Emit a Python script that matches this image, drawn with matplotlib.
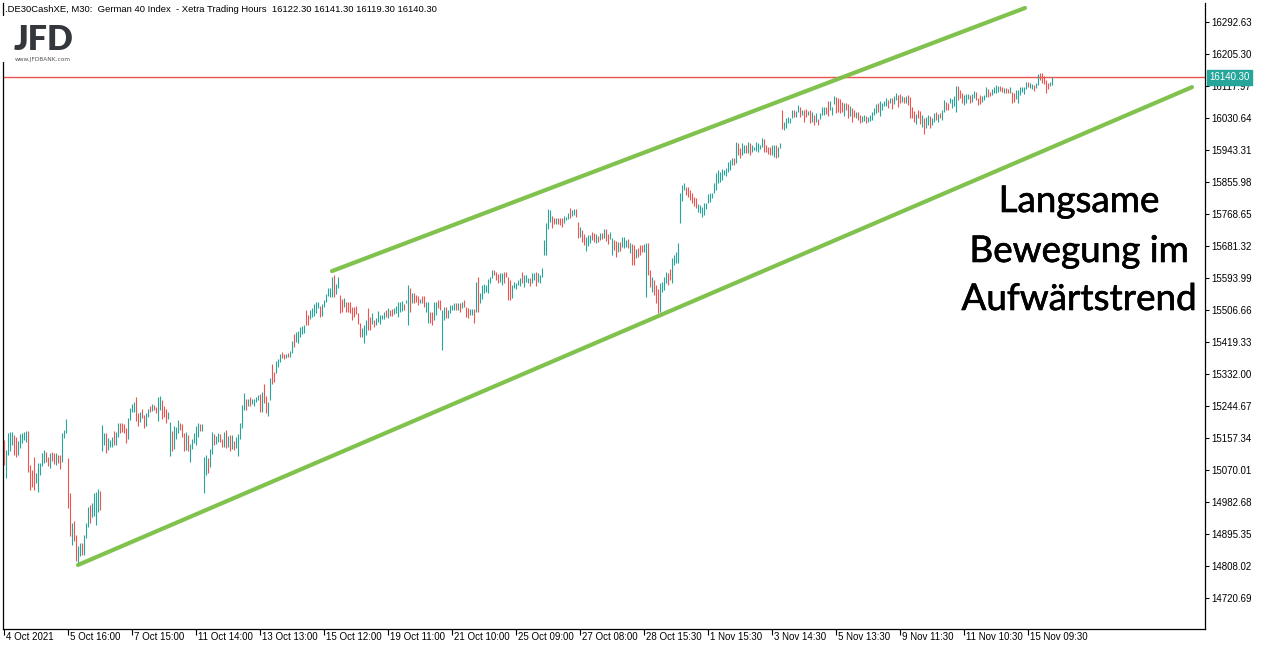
import matplotlib
matplotlib.use("Agg")
import matplotlib.pyplot as plt
import matplotlib.patheffects as pe
from matplotlib.transforms import ScaledTranslation, blended_transform_factory
import numpy as np

# ---------------- data ----------------
highs = [
    15151, 15124, 15170, 15173, 15173, 15165, 15159, 15149, 15168, 15170,
    15173, 15176, 15176, 15083, 15069, 15105, 15061, 15088, 15088, 15116,
    15124, 15118, 15105, 15116, 15118, 15116, 15116, 15110, 15110, 15170,
    15179, 15209, 15102, 15007, 14925, 14930, 14892, 14862, 14870, 14870,
    14892, 14925, 14969, 14974, 14979, 15007, 15009, 15017, 15012, 15192,
    15170, 15170, 15157, 15151, 15159, 15176, 15173, 15198, 15198, 15198,
    15195, 15184, 15211, 15239, 15250, 15255, 15269, 15225, 15228, 15236,
    15220, 15225, 15236, 15244, 15250, 15247, 15241, 15269, 15272, 15260,
    15244, 15236, 15228, 15200, 15176, 15189, 15187, 15206, 15198, 15195,
    15170, 15173, 15165, 15140, 15154, 15170, 15189, 15198, 15195, 15195,
    15105, 15110, 15102, 15127, 15173, 15168, 15162, 15170, 15168, 15154,
    15173, 15179, 15162, 15165, 15165, 15149, 15159, 15168, 15198, 15247,
    15280, 15263, 15263, 15269, 15263, 15263, 15269, 15274, 15277, 15282,
    15304, 15272, 15255, 15320, 15358, 15337, 15367, 15372, 15386, 15391,
    15386, 15386, 15388, 15394, 15421, 15440, 15446, 15449, 15460, 15462,
    15465, 15506, 15492, 15506, 15511, 15522, 15528, 15528, 15517, 15522,
    15533, 15550, 15566, 15566, 15596, 15602, 15577, 15596, 15547, 15536,
    15539, 15528, 15528, 15528, 15514, 15514, 15517, 15498, 15470, 15457,
    15465, 15479, 15511, 15487, 15498, 15479, 15484, 15503, 15492, 15492,
    15500, 15506, 15511, 15506, 15509, 15511, 15517, 15528, 15528, 15531,
    15522, 15533, 15574, 15566, 15552, 15552, 15547, 15544, 15536, 15544,
    15544, 15528, 15528, 15500, 15500, 15528, 15528, 15533, 15533, 15506,
    15514, 15514, 15506, 15520, 15520, 15525, 15525, 15525, 15525, 15528,
    15533, 15514, 15511, 15509, 15509, 15509, 15582, 15596, 15552, 15574,
    15577, 15574, 15591, 15596, 15615, 15615, 15610, 15604, 15607, 15607,
    15610, 15610, 15596, 15588, 15574, 15582, 15580, 15588, 15593, 15610,
    15602, 15602, 15593, 15593, 15607, 15607, 15610, 15607, 15602, 15621,
    15697, 15743, 15782, 15779, 15762, 15757, 15757, 15757, 15757, 15757,
    15762, 15760, 15771, 15784, 15779, 15782, 15782, 15746, 15732, 15724,
    15713, 15705, 15711, 15711, 15719, 15716, 15713, 15708, 15716, 15716,
    15727, 15727, 15713, 15719, 15702, 15697, 15694, 15691, 15691, 15705,
    15705, 15697, 15700, 15689, 15686, 15683, 15672, 15675, 15683, 15683,
    15686, 15689, 15689, 15615, 15596, 15588, 15574, 15563, 15580, 15582,
    15596, 15610, 15607, 15618, 15648, 15656, 15664, 15689, 15825, 15847,
    15853, 15842, 15842, 15834, 15825, 15814, 15812, 15795, 15792, 15787,
    15798, 15798, 15823, 15825, 15825, 15853, 15880, 15888, 15883, 15891,
    15888, 15893, 15910, 15915, 15921, 15921, 15964, 15962, 15948, 15962,
    15956, 15956, 15964, 15962, 15956, 15951, 15964, 15962, 15956, 15975,
    15972, 15956, 15951, 15951, 15956, 15956, 15956, 15951, 15962, 16052,
    16019, 16030, 16033, 16030, 16052, 16052, 16049, 16065, 16060, 16052,
    16052, 16054, 16049, 16052, 16046, 16038, 16044, 16027, 16044, 16060,
    16060, 16060, 16076, 16076, 16060, 16090, 16087, 16085, 16082, 16074,
    16071, 16071, 16068, 16063, 16057, 16052, 16046, 16046, 16038, 16035,
    16038, 16035, 16033, 16038, 16046, 16057, 16068, 16071, 16076, 16071,
    16076, 16085, 16079, 16085, 16085, 16090, 16098, 16093, 16095, 16090,
    16087, 16090, 16093, 16087, 16060, 16049, 16041, 16052, 16049, 16038,
    16030, 16033, 16038, 16035, 16030, 16044, 16046, 16041, 16044, 16052,
    16079, 16074, 16071, 16085, 16082, 16090, 16117, 16117, 16106, 16098,
    16093, 16095, 16095, 16093, 16095, 16104, 16101, 16085, 16093, 16090,
    16093, 16114, 16109, 16101, 16109, 16114, 16120, 16117, 16117, 16114,
    16112, 16112, 16109, 16114, 16101, 16098, 16106, 16106, 16114, 16114,
    16114, 16128, 16128, 16125, 16123, 16120, 16125, 16150, 16153, 16153,
    16144, 16134, 16125, 16128, 16141.3,
]
lows = [
    15083, 15048, 15110, 15121, 15138, 15110, 15105, 15110, 15129, 15143,
    15151, 15146, 15064, 15015, 15023, 15015, 15034, 15009, 15056, 15080,
    15088, 15091, 15080, 15075, 15094, 15086, 15083, 15088, 15072, 15091,
    15157, 15170, 14966, 14889, 14865, 14876, 14821, 14810, 14835, 14838,
    14838, 14884, 14914, 14925, 14941, 14944, 14919, 14955, 14960, 15121,
    15138, 15116, 15124, 15132, 15132, 15138, 15138, 15159, 15170, 15173,
    15170, 15143, 15154, 15206, 15228, 15228, 15203, 15189, 15200, 15211,
    15184, 15189, 15214, 15228, 15231, 15233, 15225, 15203, 15233, 15209,
    15214, 15198, 15209, 15108, 15121, 15127, 15154, 15170, 15179, 15159,
    15121, 15124, 15121, 15091, 15127, 15143, 15138, 15159, 15176, 15176,
    15007, 15056, 15061, 15077, 15113, 15138, 15140, 15146, 15146, 15132,
    15132, 15129, 15132, 15121, 15127, 15124, 15129, 15108, 15154, 15184,
    15233, 15233, 15244, 15244, 15250, 15244, 15255, 15260, 15228, 15228,
    15252, 15225, 15217, 15260, 15304, 15310, 15334, 15350, 15364, 15375,
    15372, 15375, 15378, 15378, 15388, 15405, 15419, 15416, 15432, 15440,
    15443, 15465, 15465, 15481, 15487, 15489, 15498, 15511, 15487, 15489,
    15514, 15528, 15544, 15541, 15541, 15541, 15550, 15566, 15498, 15500,
    15514, 15500, 15500, 15498, 15479, 15487, 15495, 15468, 15432, 15432,
    15416, 15438, 15451, 15451, 15468, 15460, 15465, 15473, 15468, 15481,
    15481, 15487, 15484, 15489, 15489, 15495, 15498, 15487, 15500, 15503,
    15506, 15525, 15465, 15500, 15525, 15525, 15528, 15520, 15525, 15525,
    15514, 15500, 15470, 15470, 15465, 15479, 15492, 15511, 15506, 15397,
    15479, 15484, 15484, 15498, 15506, 15506, 15506, 15506, 15500, 15511,
    15514, 15487, 15484, 15492, 15492, 15470, 15500, 15500, 15525, 15536,
    15552, 15555, 15552, 15580, 15593, 15602, 15588, 15580, 15582, 15574,
    15580, 15596, 15533, 15533, 15539, 15566, 15563, 15574, 15571, 15580,
    15569, 15582, 15580, 15571, 15580, 15588, 15571, 15582, 15580, 15596,
    15656, 15656, 15727, 15746, 15730, 15741, 15741, 15741, 15738, 15732,
    15743, 15752, 15754, 15757, 15762, 15765, 15760, 15702, 15705, 15692,
    15683, 15667, 15681, 15689, 15697, 15692, 15689, 15692, 15697, 15700,
    15702, 15694, 15686, 15700, 15656, 15670, 15650, 15664, 15667, 15678,
    15675, 15678, 15675, 15661, 15629, 15629, 15648, 15650, 15656, 15664,
    15664, 15541, 15602, 15569, 15555, 15547, 15525, 15498, 15500, 15555,
    15561, 15580, 15574, 15588, 15580, 15629, 15634, 15634, 15743, 15803,
    15834, 15820, 15814, 15806, 15798, 15790, 15784, 15773, 15771, 15760,
    15765, 15782, 15798, 15801, 15812, 15825, 15834, 15853, 15855, 15861,
    15874, 15872, 15883, 15888, 15902, 15902, 15907, 15929, 15921, 15929,
    15934, 15934, 15934, 15929, 15937, 15943, 15940, 15937, 15945, 15951,
    15937, 15937, 15932, 15929, 15929, 15923, 15921, 15923, 15948, 15999,
    15997, 16003, 16016, 16016, 16030, 16033, 16033, 16046, 16033, 16038,
    16019, 16033, 16038, 16016, 16019, 16011, 16019, 16011, 16027, 16038,
    16038, 16041, 16035, 16052, 16038, 16068, 16044, 16046, 16044, 16046,
    16035, 16052, 16030, 16035, 16019, 16033, 16030, 16025, 16016, 16019,
    16022, 16016, 16019, 16022, 16025, 16038, 16044, 16046, 16035, 16052,
    16063, 16063, 16057, 16071, 16054, 16068, 16079, 16060, 16071, 16074,
    16071, 16071, 16065, 16030, 16030, 16019, 16014, 16030, 16014, 16005,
    15986, 16003, 16011, 16003, 16011, 16019, 16025, 16019, 16030, 16025,
    16046, 16052, 16052, 16071, 16057, 16063, 16046, 16079, 16085, 16071,
    16065, 16071, 16082, 16071, 16074, 16085, 16079, 16065, 16068, 16074,
    16079, 16087, 16087, 16090, 16093, 16098, 16098, 16101, 16104, 16101,
    16098, 16098, 16098, 16098, 16071, 16074, 16082, 16071, 16093, 16101,
    16095, 16109, 16114, 16112, 16109, 16104, 16112, 16120, 16134, 16125,
    16123, 16098, 16109, 16117, 16119.3,
]
# 'u' = bullish bar (close > open), 'd' = bearish bar
bar_dir = (
    "duuuudduuu" "uudddduuuu" "uddudduddu" "uuddudduud" "uuuduuuudu"
    "uduuuduudd" "dduuuuddud" "duududduud" "dduuduuudd" "duduuuuudu"
    "uuduuduudd" "udududuuuu" "ududuuuudu" "dduudduuud" "duduuduuuu"
    "udduuuuudu" "uuuuuduudd" "uddddddddu" "uudduduuuu" "ududduuuuu"
    "duududddud" "duudduuddu" "uduuuududu" "ddduududuu" "uuuuuddduu"
    "dddduuuuud" "uuuduuduuu" "uuuudduddd" "uuuduuddud" "duuuddudud"
    "udduuddudu" "uududduddd" "uudduddduu" "uudduuuuuu" "udddddduuu"
    "uuuuuuuuuu" "uuuuududdu" "ududuuuuuu" "dddduuduud" "uuuuuduudu"
    "ddudududuu" "udduuudddd" "uddudduddu" "uduuuuuduu" "uududuuddu"
    "dudddduddu" "duuduududu" "udduuuuddd" "uuuduudddu" "uudduuuudd"
    "uddudduuuu" "uuduuduudd" "ddduu"
)

date_labels = ["4 Oct 2021", "5 Oct 16:00", "7 Oct 15:00", "11 Oct 14:00",
               "13 Oct 13:00", "15 Oct 12:00", "19 Oct 11:00", "21 Oct 10:00",
               "25 Oct 09:00", "27 Oct 08:00", "28 Oct 15:30", "1 Nov 15:30",
               "3 Nov 14:30", "5 Nov 13:30", "9 Nov 11:30", "11 Nov 10:30",
               "15 Nov 09:30"]
bars_per_label = 32

price_ticks = [14720.69, 14808.02, 14895.35, 14982.68, 15070.01, 15157.34,
               15244.67, 15332.00, 15419.33, 15506.66, 15593.99, 15681.32,
               15768.65, 15855.98, 15943.31, 16030.64, 16117.97, 16205.30,
               16292.63]

last_price = 16140.30
title_text = (".DE30CashXE, M30:  German 40 Index  - Xetra Trading Hours  "
              "16122.30 16141.30 16119.30 16140.30")

# trend lines: (bar index, price) at both ends
lower_trend_x = [37, 594]
lower_trend_y = [14810, 16114]
upper_trend_x = [164, 510.5]
upper_trend_y = [15612, 16330]

note_lines = ["Langsame", "Bewegung im", "Aufwärtstrend"]

# ---------------- styling ----------------
TEAL = "#26a69a"
RED = "#ef5350"
GREEN = "#7abf44"
W, H = 1264, 650
AX_L, AX_R, AX_T, AX_B = 2.5, 1205.0, 3.0, 629.0
TICK_FONT = "Liberation Sans"


def fx(px):
    return px / W


def fy(py):
    return 1 - py / H


fig = plt.figure(figsize=(W / 100, H / 100), dpi=100)
fig.patch.set_facecolor("white")
ax = fig.add_axes([fx(AX_L), fy(AX_B), (AX_R - AX_L) / W, (AX_B - AX_T) / H])
ax.set_facecolor("white")

n = min(len(highs), len(lows), len(bar_dir))
hi = np.asarray(highs[:n], dtype=float)
lo = np.asarray(lows[:n], dtype=float)
xs = np.arange(n)
up = np.array([c == "u" for c in bar_dir[:n]])

bar_lw = 0.8
c1 = ax.vlines(xs[up], lo[up], hi[up], color=TEAL, lw=bar_lw, zorder=3)
c2 = ax.vlines(xs[~up], lo[~up], hi[~up], color=RED, lw=bar_lw, zorder=3)
for c in (c1, c2):
    c.set_snap(True)

ax.axhline(last_price, color=RED, lw=1.0, zorder=2)

ax.plot(lower_trend_x, lower_trend_y, color=GREEN, lw=3.0, alpha=0.95,
        solid_capstyle="round", zorder=4)
ax.plot(upper_trend_x, upper_trend_y, color=GREEN, lw=3.0, alpha=0.95,
        solid_capstyle="round", zorder=4)

ax.set_xlim(-0.75, (AX_R - AX_L) / 2 - 0.75)
ax.set_ylim(16351.8 - 2.7291 * AX_B, 16351.8 - 2.7291 * AX_T)

for s in ("left", "right", "bottom"):
    ax.spines[s].set_color("black")
    ax.spines[s].set_linewidth(0.9)
ax.spines["top"].set_visible(False)

# right price axis
ax.yaxis.tick_right()
ax.set_yticks(price_ticks)
ax.set_yticklabels([f"{v:.2f}" for v in price_ticks])
ax.tick_params(axis="y", direction="out", length=3.0, width=0.8, pad=1.2,
               labelsize=7, colors="black")
for lab in ax.get_yticklabels():
    lab.set_family(TICK_FONT)

# bottom date axis
tick_pos = [k * bars_per_label for k in range(len(date_labels))]
ax.set_xticks(tick_pos)
ax.set_xticklabels([])
ax.tick_params(axis="x", direction="out", length=4.5, width=0.8, colors="black")
lab_trans = blended_transform_factory(ax.transData, ax.transAxes) + \
    ScaledTranslation(2 / 100, -3.5 / 100, fig.dpi_scale_trans)
for pos, lab in zip(tick_pos, date_labels):
    ax.text(pos, 0, lab, transform=lab_trans, ha="left", va="top",
            fontsize=7, family=TICK_FONT, color="black", clip_on=False)

# current price tag
tag_trans = blended_transform_factory(ax.transAxes, ax.transData) + \
    ScaledTranslation(4.5 / 100, 0, fig.dpi_scale_trans)
ax.text(1.0, last_price, f"{last_price:.2f}", transform=tag_trans,
        ha="left", va="center", fontsize=7, family=TICK_FONT, color="white",
        clip_on=False, zorder=10,
        bbox=dict(boxstyle="square,pad=0.22", fc=TEAL, ec=TEAL))

# title in the chart
fig.text(fx(5), fy(10), title_text, ha="left", va="center", fontsize=6.8,
         family=TICK_FONT, color="black")

# JFD logo (white patch hides the border behind it)
fig.patches.append(plt.Rectangle((0, fy(62)), fx(80), fy(16) - fy(62),
                                 transform=fig.transFigure, fc="white",
                                 ec="none", zorder=5))
fig.text(fx(14), fy(50), "JFD", ha="left", va="baseline", fontsize=24.5,
         family="Lato", weight="heavy", color="#34383c", zorder=6)
fig.text(fx(15), fy(61), "www.JFDBANK.com", ha="left", va="baseline",
         fontsize=4.2, family="DejaVu Sans", color="#555555", zorder=6)

# annotation text (regular weight, slightly thickened to a medium look)
baselines = [212, 262, 310]
for line, yb in zip(note_lines, baselines):
    fig.text(fx(1079), fy(yb), line, ha="center", va="baseline",
             fontsize=26.5, family="Lato", weight="normal", color="black",
             path_effects=[pe.withStroke(linewidth=0.45, foreground="black")])

fig.savefig("out.png", dpi=100, facecolor="white")
